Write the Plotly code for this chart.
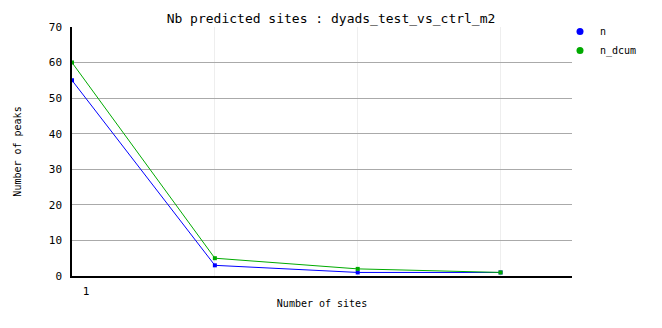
import plotly.graph_objects as go

sites = [1, 2, 3, 4]
n_vals = [55, 3, 1, 1]
n_dcum_vals = [60, 5, 2, 1]
y_ticks = [0, 10, 20, 30, 40, 50, 60, 70]
x_tick_labels = ["1", "", "", ""]
series_names = ["n", "n_dcum"]
series_colors = ["#0000ff", "#00aa00"]

font = "DejaVu Sans Mono, monospace"

fig = go.Figure()
for name, vals, col in zip(series_names, [n_vals, n_dcum_vals], series_colors):
    fig.add_trace(go.Scatter(x=sites, y=vals, name=name, mode="lines+markers",
                             line=dict(color=col, width=1),
                             marker=dict(symbol="square", size=4, color=col),
                             showlegend=False))
for name, col in zip(series_names, series_colors):
    fig.add_trace(go.Scatter(x=[None], y=[None], name=name, mode="markers",
                             marker=dict(symbol="circle", size=7, color=col)))

fig.update_layout(
    width=662, height=328,
    margin=dict(l=72, r=90, t=27, b=52, autoexpand=False),
    paper_bgcolor="white", plot_bgcolor="white",
    font=dict(family=font, size=11, color="black"),
    title=dict(text="Nb predicted sites : dyads_test_vs_ctrl_m2", x=0.5, xanchor="center",
               y=1 - 18/328, yanchor="middle", font=dict(size=13, family=font)),
    xaxis=dict(range=[1, 4.5], tickvals=sites, ticktext=x_tick_labels,
               showgrid=True, gridcolor="#eeeeee", gridwidth=1,
               showline=True, linecolor="black", linewidth=1.5,
               ticks="", ticklabelshift=14, ticklabelstandoff=4, zeroline=False,
               title=dict(text="Number of sites", standoff=3, font=dict(size=10))),
    yaxis=dict(range=[0, 70], tickvals=y_ticks,
               showgrid=True, gridcolor="#aaaaaa", gridwidth=1,
               showline=True, linecolor="black", linewidth=1.5,
               ticks="", ticklabelstandoff=6, zeroline=False,
               title=dict(text="Number of peaks", standoff=25, font=dict(size=10))),
    legend=dict(x=(560 - 72) / 500, xanchor="left", y=1 + 10 / 249, yanchor="top",
                font=dict(size=10), itemwidth=30, bgcolor="rgba(0,0,0,0)"),
    showlegend=True,
)

fig.write_html("out.html")
